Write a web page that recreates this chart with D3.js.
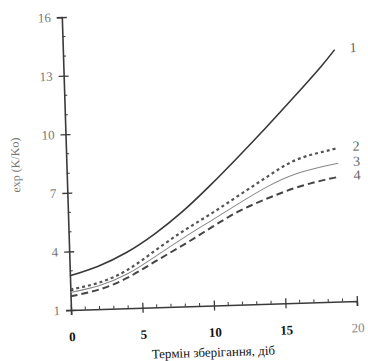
<!DOCTYPE html>
<html><head><meta charset="utf-8">
<script src="https://cdn.jsdelivr.net/npm/d3@7"></script>
<style>
html,body{margin:0;padding:0;background:#fff;}
svg{display:block;}
text{font-family:"Liberation Serif","DejaVu Serif",serif;}
</style></head>
<body>
<svg id="chart" width="368" height="361"></svg>
<script>
// Data
const days = [0, 2, 4, 6, 8, 10, 12, 14, 16, 18, 19];
const series1 = [2.75, 3.2, 3.85, 4.75, 5.85, 7.15, 8.55, 10.0, 11.5, 13.05, 13.9];
const series2 = [2.05, 2.35, 2.95, 3.9, 4.85, 5.7, 6.6, 7.5, 8.3, 8.7, 8.86];
const series3 = [1.9, 2.2, 2.75, 3.6, 4.5, 5.35, 6.2, 7.0, 7.6, 7.95, 8.08];
const series4 = [1.7, 2.0, 2.55, 3.35, 4.15, 5.0, 5.8, 6.4, 6.9, 7.25, 7.38];
const seriesNames = ["1", "2", "3", "4"];
const xTicks = [0, 5, 10, 15, 20];
const yTicks = [1, 4, 7, 10, 13, 16];
const xLabel = "Термін зберігання, діб";
const yLabel = "exp (K/Ko)";

const svg = d3.select("#chart");
const x0 = 71, y0 = 310;
const x = d3.scaleLinear().domain([0, 20]).range([x0, 357]);
const y = d3.scaleLinear().domain([1, 16]).range([y0, 17]);

const g = svg.append("g").attr("transform", `rotate(-1.8, ${x0}, ${y0})`);
const ink = "#3a3a3a";

// Y axis
const yAxis = d3.axisLeft(y).tickValues(yTicks).tickSize(5).tickPadding(6).tickFormat(d3.format("d"));
const ya = g.append("g").attr("transform", `translate(${x0},0)`).call(yAxis);
ya.select(".domain").attr("stroke", ink).attr("stroke-width", 1.6);
ya.selectAll(".tick line").attr("stroke", ink).attr("stroke-width", 1.3).attr("x2", -5).attr("x1", 5);
ya.selectAll(".tick text").attr("fill", "#777").attr("font-size", 13);
// minor y ticks
const yMinor = d3.range(1, 16.01, 1).filter(v => !yTicks.includes(v));
g.append("g").selectAll("line").data(yMinor).join("line")
  .attr("x1", x0).attr("x2", x0 + 3).attr("y1", d => y(d)).attr("y2", d => y(d))
  .attr("stroke", ink).attr("stroke-width", 1);

// X axis
const xAxis = d3.axisBottom(x).tickValues(xTicks).tickSize(5).tickPadding(17).tickFormat(d3.format("d"));
const xa = g.append("g").attr("transform", `translate(0,${y0})`).call(xAxis);
xa.select(".domain").attr("stroke", ink).attr("stroke-width", 1.6);
xa.selectAll(".tick line").attr("stroke", ink).attr("stroke-width", 1.3).attr("y1", -5).attr("y2", 5);
xa.selectAll(".tick text").attr("fill", d => d === 20 ? "#888" : "#111")
  .attr("font-size", 13).attr("font-weight", d => d === 20 ? "normal" : "bold");
const xMinor = d3.range(0, 20.01, 1).filter(v => !xTicks.includes(v));
g.append("g").selectAll("line").data(xMinor).join("line")
  .attr("x1", d => x(d)).attr("x2", d => x(d)).attr("y1", y0).attr("y2", y0 - 3)
  .attr("stroke", ink).attr("stroke-width", 1);

// Axis titles
g.append("text").attr("x", (x(0) + x(20)) / 2 - 2).attr("y", y0 + 51)
  .attr("text-anchor", "middle").attr("font-size", 13).attr("fill", "#111").text(xLabel);
g.append("text").attr("transform", `translate(${x0 - 47},${(y(1) + y(16)) / 2}) rotate(-90)`)
  .attr("text-anchor", "middle").attr("font-size", 12).attr("fill", "#777").text(yLabel);

// Curves
const allSeries = [series1, series2, series3, series4];
const styles = [
  {w: 1.6, dash: null, c: "#383838"},
  {w: 2.2, dash: "3,3", c: "#555"},
  {w: 1.0, dash: null, c: "#888"},
  {w: 2.0, dash: "7,4", c: "#444"}
];
const line = d3.line().x((d, i) => x(days[i])).y(d => y(d)).curve(d3.curveNatural);
allSeries.forEach((s, k) => {
  g.append("path").datum(s).attr("d", line).attr("fill", "none")
    .attr("stroke", styles[k].c).attr("stroke-width", styles[k].w)
    .attr("stroke-dasharray", styles[k].dash);
  g.append("text").attr("x", x(days[days.length - 1]) + 15).attr("y", y(s[s.length - 1]))
    .attr("dominant-baseline", "middle").attr("font-size", 14).attr("fill", "#666")
    .text(seriesNames[k]);
});
</script>
</body></html>
